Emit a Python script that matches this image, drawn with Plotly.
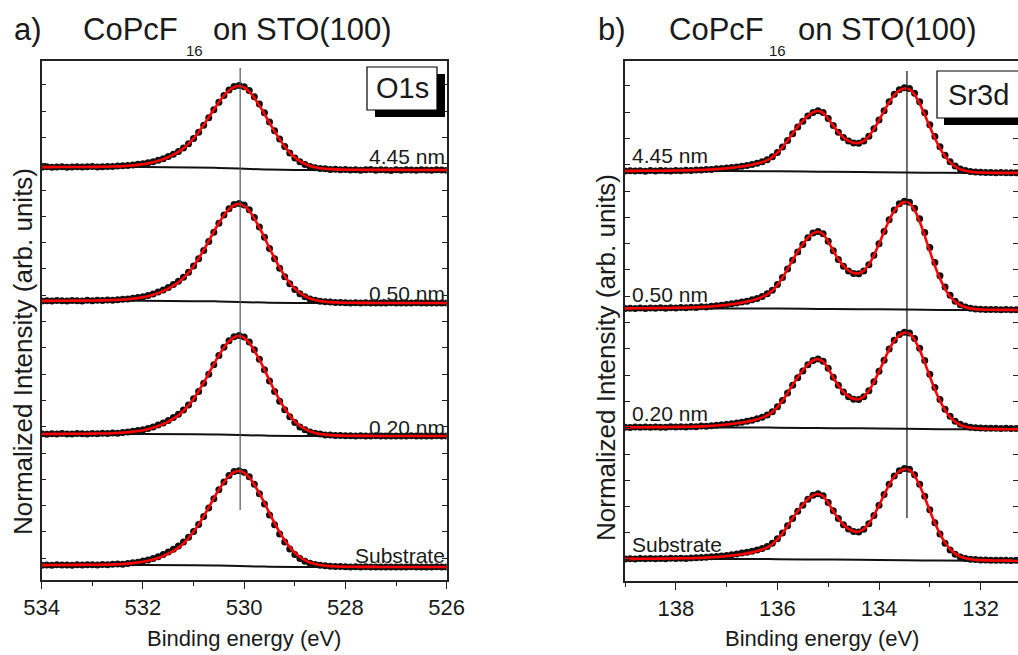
import plotly.graph_objects as go

# ---------------- data: O1s panel ----------------
energy_o1s = [534.0, 533.9, 533.8, 533.7, 533.6, 533.5, 533.4, 533.3, 533.2, 533.1,
              533.0, 532.9, 532.8, 532.7, 532.6, 532.5, 532.4, 532.3, 532.2, 532.1,
              532.0, 531.9, 531.8, 531.7, 531.6, 531.5, 531.4, 531.3, 531.2, 531.1,
              531.0, 530.9, 530.8, 530.7, 530.6, 530.5, 530.4, 530.3, 530.2, 530.1,
              530.0, 529.9, 529.8, 529.7, 529.6, 529.5, 529.4, 529.3, 529.2, 529.1,
              529.0, 528.9, 528.8, 528.7, 528.6, 528.5, 528.4, 528.3, 528.2, 528.1,
              528.0, 527.9, 527.8, 527.7, 527.6, 527.5, 527.4, 527.3, 527.2, 527.1,
              527.0, 526.9, 526.8, 526.7, 526.6, 526.5, 526.4, 526.3, 526.2, 526.1, 526.0]

o1s_data_sub = [0.018, 0.022, 0.019, 0.023, 0.020, 0.022, 0.019, 0.024, 0.021, 0.023,
                0.025, 0.022, 0.026, 0.024, 0.029, 0.031, 0.030, 0.038, 0.044, 0.051,
                0.062, 0.074, 0.090, 0.108, 0.132, 0.158, 0.188, 0.221, 0.262, 0.312,
                0.374, 0.448, 0.532, 0.622, 0.718, 0.812, 0.895, 0.962, 1.004, 1.012,
                0.998, 0.951, 0.872, 0.772, 0.662, 0.548, 0.444, 0.348, 0.262, 0.190,
                0.132, 0.090, 0.060, 0.040, 0.027, 0.018, 0.012, 0.008, 0.006, 0.004,
                0.003, 0.001, 0.003, 0.000, 0.002, 0.000, 0.001, -0.001, 0.001, 0.000,
                0.001, -0.001, 0.000, 0.002, 0.000, -0.001, 0.001, 0.000, 0.002, -0.001, 0.000]
o1s_fit_sub = [0.020, 0.020, 0.021, 0.021, 0.021, 0.021, 0.022, 0.022, 0.022, 0.023,
               0.023, 0.024, 0.024, 0.025, 0.027, 0.029, 0.032, 0.036, 0.041, 0.047,
               0.055, 0.065, 0.078, 0.095, 0.115, 0.140, 0.170, 0.204, 0.249, 0.303,
               0.370, 0.449, 0.536, 0.628, 0.725, 0.814, 0.893, 0.956, 0.997, 1.010,
               0.992, 0.943, 0.866, 0.775, 0.674, 0.565, 0.463, 0.367, 0.281, 0.209,
               0.150, 0.105, 0.072, 0.048, 0.032, 0.021, 0.014, 0.009, 0.006, 0.004,
               0.003, 0.002, 0.002, 0.001, 0.001, 0.001, 0.001, 0.000, 0.000, 0.000,
               0.000, 0.000, 0.000, 0.000, 0.000, 0.000, 0.000, 0.000, 0.000, 0.000, 0.000]

o1s_data_020 = [0.022, 0.018, 0.023, 0.020, 0.024, 0.021, 0.019, 0.025, 0.022, 0.020,
                0.026, 0.023, 0.027, 0.024, 0.031, 0.029, 0.036, 0.041, 0.048, 0.055,
                0.064, 0.076, 0.091, 0.110, 0.131, 0.157, 0.186, 0.220, 0.262, 0.313,
                0.376, 0.450, 0.534, 0.625, 0.720, 0.812, 0.897, 0.961, 1.003, 1.014,
                0.999, 0.950, 0.870, 0.774, 0.668, 0.555, 0.450, 0.352, 0.266, 0.194,
                0.136, 0.092, 0.062, 0.041, 0.028, 0.019, 0.011, 0.009, 0.004, 0.005,
                0.002, 0.003, 0.000, 0.002, -0.001, 0.001, 0.002, -0.001, 0.000, 0.001,
                -0.001, 0.001, 0.000, 0.002, -0.001, 0.000, 0.001, -0.001, 0.002, 0.000, 0.001]
o1s_fit_020 = [0.020, 0.020, 0.021, 0.021, 0.021, 0.022, 0.022, 0.022, 0.023, 0.023,
               0.024, 0.025, 0.025, 0.026, 0.028, 0.031, 0.034, 0.038, 0.044, 0.050,
               0.058, 0.069, 0.083, 0.100, 0.121, 0.146, 0.176, 0.210, 0.255, 0.309,
               0.375, 0.453, 0.540, 0.631, 0.727, 0.815, 0.894, 0.957, 0.997, 1.010,
               0.991, 0.941, 0.863, 0.771, 0.670, 0.561, 0.459, 0.363, 0.278, 0.206,
               0.148, 0.103, 0.071, 0.047, 0.031, 0.021, 0.014, 0.009, 0.006, 0.004,
               0.003, 0.002, 0.002, 0.001, 0.001, 0.001, 0.001, 0.000, 0.000, 0.000,
               0.000, 0.000, 0.000, 0.000, 0.000, 0.000, 0.000, 0.000, 0.000, 0.000, 0.000]

o1s_data_050 = [0.020, 0.024, 0.021, 0.025, 0.022, 0.020, 0.026, 0.023, 0.021, 0.027,
                0.024, 0.028, 0.025, 0.030, 0.029, 0.034, 0.037, 0.042, 0.049, 0.056,
                0.065, 0.077, 0.093, 0.111, 0.133, 0.158, 0.189, 0.223, 0.264, 0.315,
                0.378, 0.452, 0.536, 0.627, 0.722, 0.814, 0.898, 0.962, 1.004, 1.015,
                1.001, 0.952, 0.872, 0.776, 0.670, 0.557, 0.452, 0.354, 0.268, 0.196,
                0.138, 0.094, 0.064, 0.042, 0.029, 0.018, 0.012, 0.010, 0.005, 0.004,
                0.003, 0.001, 0.003, 0.000, 0.002, 0.001, -0.001, 0.001, 0.000, 0.002,
                0.000, -0.001, 0.001, 0.000, 0.002, -0.001, 0.000, 0.001, 0.000, -0.001, 0.001]
o1s_fit_050 = [0.022, 0.022, 0.022, 0.023, 0.023, 0.023, 0.024, 0.024, 0.024, 0.025,
               0.025, 0.026, 0.027, 0.028, 0.030, 0.032, 0.035, 0.039, 0.045, 0.051,
               0.059, 0.070, 0.084, 0.101, 0.122, 0.147, 0.177, 0.212, 0.256, 0.310,
               0.376, 0.454, 0.541, 0.632, 0.728, 0.816, 0.895, 0.957, 0.997, 1.010,
               0.990, 0.940, 0.861, 0.769, 0.668, 0.559, 0.457, 0.361, 0.276, 0.204,
               0.146, 0.102, 0.070, 0.046, 0.031, 0.020, 0.013, 0.009, 0.006, 0.004,
               0.003, 0.002, 0.002, 0.001, 0.001, 0.001, 0.000, 0.000, 0.000, 0.000,
               0.000, 0.000, 0.000, 0.000, 0.000, 0.000, 0.000, 0.000, 0.000, 0.000, 0.000]

o1s_data_445 = [0.033, 0.038, 0.034, 0.037, 0.040, 0.034, 0.036, 0.039, 0.035, 0.038,
                0.041, 0.037, 0.040, 0.043, 0.041, 0.047, 0.050, 0.054, 0.060, 0.068,
                0.076, 0.087, 0.100, 0.117, 0.137, 0.162, 0.190, 0.222, 0.264, 0.316,
                0.380, 0.455, 0.540, 0.630, 0.725, 0.815, 0.897, 0.963, 1.005, 1.018,
                1.003, 0.958, 0.884, 0.794, 0.690, 0.578, 0.472, 0.372, 0.282, 0.206,
                0.144, 0.098, 0.066, 0.043, 0.028, 0.018, 0.014, 0.006, 0.010, 0.002,
                0.005, 0.000, 0.004, -0.004, 0.002, 0.006, -0.002, 0.003, 0.000, -0.005,
                0.002, -0.003, 0.004, 0.000, -0.004, 0.003, 0.001, -0.003, 0.002, 0.000, -0.002]
o1s_fit_445 = [0.035, 0.035, 0.035, 0.036, 0.036, 0.036, 0.036, 0.037, 0.037, 0.037,
               0.038, 0.038, 0.039, 0.040, 0.042, 0.044, 0.047, 0.051, 0.056, 0.062,
               0.070, 0.080, 0.093, 0.110, 0.130, 0.155, 0.185, 0.219, 0.262, 0.315,
               0.380, 0.457, 0.543, 0.634, 0.729, 0.817, 0.896, 0.958, 0.998, 1.012,
               0.994, 0.945, 0.868, 0.777, 0.676, 0.567, 0.465, 0.369, 0.283, 0.210,
               0.151, 0.106, 0.073, 0.049, 0.033, 0.022, 0.015, 0.010, 0.007, 0.005,
               0.004, 0.003, 0.003, 0.002, 0.002, 0.002, 0.001, 0.001, 0.001, 0.001,
               0.001, 0.001, 0.000, 0.000, 0.000, 0.000, 0.000, 0.000, 0.000, 0.000, 0.000]

bg_energy_o1s = [534.0, 532.0, 531.0, 530.5, 530.1, 529.6, 529.0, 528.0, 526.0]
o1s_bg_sub = [0.020, 0.020, 0.018, 0.015, 0.010, 0.004, 0.000, 0.000, 0.000]
o1s_bg_020 = [0.020, 0.020, 0.018, 0.015, 0.010, 0.004, 0.000, 0.000, 0.000]
o1s_bg_050 = [0.022, 0.022, 0.019, 0.016, 0.011, 0.004, 0.000, 0.000, 0.000]
o1s_bg_445 = [0.035, 0.035, 0.031, 0.025, 0.017, 0.007, 0.001, 0.000, 0.000]

# ---------------- data: Sr3d panel ----------------
energy_sr3d = [139.0, 138.9, 138.8, 138.7, 138.6, 138.5, 138.4, 138.3, 138.2, 138.1,
               138.0, 137.9, 137.8, 137.7, 137.6, 137.5, 137.4, 137.3, 137.2, 137.1,
               137.0, 136.9, 136.8, 136.7, 136.6, 136.5, 136.4, 136.3, 136.2, 136.1,
               136.0, 135.9, 135.8, 135.7, 135.6, 135.5, 135.4, 135.3, 135.2, 135.1,
               135.0, 134.9, 134.8, 134.7, 134.6, 134.5, 134.4, 134.3, 134.2, 134.1,
               134.0, 133.9, 133.8, 133.7, 133.6, 133.5, 133.4, 133.3, 133.2, 133.1,
               133.0, 132.9, 132.8, 132.7, 132.6, 132.5, 132.4, 132.3, 132.2, 132.1,
               132.0, 131.9, 131.8, 131.7, 131.6, 131.5, 131.4, 131.3, 131.2, 131.1, 131.0]

sr_data_sub = [0.018, 0.022, 0.019, 0.023, 0.020, 0.024, 0.021, 0.025, 0.022, 0.026,
               0.024, 0.028, 0.025, 0.030, 0.031, 0.034, 0.038, 0.042, 0.047, 0.052,
               0.058, 0.066, 0.074, 0.083, 0.093, 0.104, 0.116, 0.132, 0.155, 0.190,
               0.240, 0.302, 0.380, 0.460, 0.538, 0.606, 0.670, 0.714, 0.731, 0.708,
               0.636, 0.545, 0.461, 0.392, 0.345, 0.318, 0.314, 0.342, 0.402, 0.494,
               0.604, 0.722, 0.834, 0.925, 0.982, 1.006, 0.996, 0.936, 0.834, 0.702,
               0.556, 0.414, 0.290, 0.190, 0.118, 0.070, 0.040, 0.024, 0.016, 0.012,
               0.008, 0.007, 0.005, 0.006, 0.004, 0.005, 0.003, 0.004, 0.002, 0.003, 0.001]
sr_fit_sub = [0.020, 0.020, 0.020, 0.021, 0.021, 0.022, 0.022, 0.023, 0.023, 0.024,
              0.025, 0.026, 0.026, 0.027, 0.029, 0.031, 0.034, 0.037, 0.041, 0.045,
              0.050, 0.056, 0.063, 0.071, 0.080, 0.091, 0.105, 0.122, 0.145, 0.180,
              0.232, 0.298, 0.378, 0.462, 0.542, 0.610, 0.672, 0.712, 0.727, 0.703,
              0.630, 0.540, 0.458, 0.392, 0.347, 0.322, 0.318, 0.345, 0.405, 0.495,
              0.603, 0.718, 0.828, 0.918, 0.975, 0.999, 0.988, 0.925, 0.820, 0.688,
              0.546, 0.410, 0.292, 0.197, 0.126, 0.077, 0.045, 0.026, 0.015, 0.009,
              0.006, 0.004, 0.003, 0.002, 0.002, 0.001, 0.001, 0.001, 0.000, 0.000, 0.000]

sr_data_020 = [0.022, 0.019, 0.023, 0.020, 0.024, 0.021, 0.025, 0.022, 0.020, 0.026,
               0.023, 0.027, 0.025, 0.029, 0.027, 0.033, 0.031, 0.038, 0.042, 0.047,
               0.052, 0.058, 0.066, 0.073, 0.083, 0.093, 0.108, 0.124, 0.148, 0.182,
               0.234, 0.298, 0.375, 0.456, 0.534, 0.604, 0.668, 0.712, 0.729, 0.705,
               0.632, 0.540, 0.455, 0.385, 0.338, 0.312, 0.309, 0.338, 0.399, 0.492,
               0.600, 0.716, 0.830, 0.923, 0.982, 1.005, 0.998, 0.940, 0.840, 0.712,
               0.570, 0.432, 0.308, 0.208, 0.134, 0.084, 0.052, 0.033, 0.022, 0.016,
               0.013, 0.011, 0.010, 0.011, 0.009, 0.010, 0.008, 0.009, 0.007, 0.008, 0.006]
sr_fit_020 = [0.020, 0.020, 0.021, 0.021, 0.021, 0.022, 0.022, 0.023, 0.023, 0.024,
              0.025, 0.025, 0.026, 0.027, 0.028, 0.030, 0.033, 0.036, 0.040, 0.044,
              0.049, 0.055, 0.062, 0.070, 0.079, 0.090, 0.104, 0.121, 0.144, 0.178,
              0.230, 0.296, 0.376, 0.460, 0.540, 0.609, 0.671, 0.712, 0.726, 0.701,
              0.627, 0.536, 0.453, 0.386, 0.341, 0.315, 0.311, 0.338, 0.398, 0.489,
              0.598, 0.714, 0.826, 0.917, 0.975, 0.999, 0.989, 0.926, 0.822, 0.690,
              0.548, 0.412, 0.294, 0.198, 0.127, 0.078, 0.046, 0.027, 0.016, 0.010,
              0.006, 0.004, 0.003, 0.002, 0.002, 0.001, 0.001, 0.001, 0.000, 0.000, 0.000]

sr_data_050 = [0.013, 0.017, 0.014, 0.018, 0.015, 0.019, 0.016, 0.020, 0.017, 0.021,
               0.019, 0.023, 0.021, 0.025, 0.023, 0.029, 0.028, 0.035, 0.039, 0.045,
               0.050, 0.058, 0.064, 0.073, 0.082, 0.094, 0.107, 0.125, 0.150, 0.184,
               0.236, 0.300, 0.379, 0.460, 0.538, 0.606, 0.668, 0.712, 0.728, 0.706,
               0.636, 0.549, 0.468, 0.404, 0.362, 0.338, 0.336, 0.362, 0.419, 0.508,
               0.614, 0.727, 0.836, 0.926, 0.984, 1.006, 0.998, 0.943, 0.846, 0.718,
               0.578, 0.440, 0.316, 0.214, 0.136, 0.082, 0.048, 0.028, 0.016, 0.010,
               0.007, 0.005, 0.004, 0.005, 0.003, 0.004, 0.002, 0.003, 0.001, 0.002, 0.000]
sr_fit_050 = [0.015, 0.015, 0.016, 0.016, 0.016, 0.017, 0.017, 0.018, 0.018, 0.019,
              0.020, 0.021, 0.022, 0.023, 0.025, 0.027, 0.030, 0.033, 0.037, 0.042,
              0.047, 0.053, 0.060, 0.068, 0.078, 0.089, 0.103, 0.121, 0.145, 0.180,
              0.232, 0.298, 0.378, 0.461, 0.541, 0.609, 0.670, 0.710, 0.724, 0.702,
              0.633, 0.548, 0.470, 0.408, 0.366, 0.342, 0.339, 0.364, 0.420, 0.507,
              0.612, 0.724, 0.831, 0.919, 0.975, 0.999, 0.988, 0.924, 0.819, 0.687,
              0.545, 0.409, 0.291, 0.196, 0.125, 0.076, 0.044, 0.025, 0.014, 0.008,
              0.005, 0.003, 0.002, 0.002, 0.001, 0.001, 0.001, 0.000, 0.000, 0.000, 0.000]

sr_data_445 = [0.023, 0.028, 0.024, 0.027, 0.022, 0.029, 0.025, 0.030, 0.026, 0.024,
               0.031, 0.028, 0.033, 0.030, 0.036, 0.034, 0.042, 0.040, 0.049, 0.053,
               0.058, 0.065, 0.071, 0.080, 0.090, 0.101, 0.115, 0.132, 0.156, 0.191,
               0.242, 0.306, 0.384, 0.465, 0.544, 0.612, 0.674, 0.716, 0.735, 0.714,
               0.645, 0.560, 0.482, 0.420, 0.377, 0.354, 0.352, 0.378, 0.435, 0.522,
               0.626, 0.736, 0.842, 0.930, 0.985, 1.007, 0.999, 0.942, 0.842, 0.712,
               0.570, 0.432, 0.310, 0.210, 0.134, 0.082, 0.048, 0.030, 0.017, 0.012,
               0.008, 0.006, 0.007, 0.004, 0.005, 0.003, 0.004, 0.002, 0.003, 0.001, 0.002]
sr_fit_445 = [0.025, 0.025, 0.025, 0.026, 0.026, 0.026, 0.027, 0.027, 0.028, 0.028,
              0.029, 0.030, 0.031, 0.032, 0.034, 0.036, 0.039, 0.042, 0.046, 0.050,
              0.055, 0.061, 0.068, 0.076, 0.086, 0.097, 0.111, 0.128, 0.152, 0.187,
              0.239, 0.305, 0.385, 0.468, 0.548, 0.616, 0.677, 0.717, 0.733, 0.710,
              0.641, 0.557, 0.481, 0.421, 0.380, 0.357, 0.354, 0.379, 0.434, 0.520,
              0.623, 0.732, 0.836, 0.922, 0.976, 0.999, 0.988, 0.925, 0.820, 0.688,
              0.546, 0.410, 0.292, 0.197, 0.126, 0.077, 0.045, 0.026, 0.015, 0.009,
              0.006, 0.004, 0.003, 0.002, 0.002, 0.001, 0.001, 0.001, 0.000, 0.000, 0.000]

bg_energy_sr3d = [139.0, 137.0, 136.0, 135.2, 134.4, 133.5, 132.8, 132.0, 131.0]
sr_bg_sub = [0.020, 0.019, 0.017, 0.013, 0.010, 0.005, 0.001, 0.000, 0.000]
sr_bg_020 = [0.020, 0.019, 0.017, 0.013, 0.010, 0.005, 0.001, 0.000, 0.000]
sr_bg_050 = [0.015, 0.014, 0.013, 0.010, 0.008, 0.004, 0.001, 0.000, 0.000]
sr_bg_445 = [0.025, 0.024, 0.021, 0.016, 0.012, 0.006, 0.002, 0.000, 0.000]

thickness_labels = ["Substrate", "0.20 nm", "0.50 nm", "4.45 nm"]

# stacking (offset of each spectrum) and display scale of each normalised spectrum
stack_offset_o1s = [0.13, 1.44, 2.77, 4.10]
display_scale_o1s = [0.95, 0.99, 0.98, 0.83]
stack_offset_sr3d = [0.203, 1.517, 2.71, 4.08]
display_scale_sr3d = [0.917, 0.966, 1.08, 0.846]

vline_o1s_energy = 530.08
vline_o1s_span = [0.70, 5.12]
vline_sr3d_energy = 133.45
vline_sr3d_span = [0.63, 5.10]

o1s_sets = [(o1s_data_sub, o1s_fit_sub, o1s_bg_sub), (o1s_data_020, o1s_fit_020, o1s_bg_020),
            (o1s_data_050, o1s_fit_050, o1s_bg_050), (o1s_data_445, o1s_fit_445, o1s_bg_445)]
sr_sets = [(sr_data_sub, sr_fit_sub, sr_bg_sub), (sr_data_020, sr_fit_020, sr_bg_020),
           (sr_data_050, sr_fit_050, sr_bg_050), (sr_data_445, sr_fit_445, sr_bg_445)]

W, H = 1018, 655
FONT = "Liberation Sans, Arial, Helvetica, sans-serif"
INK = "#1a1a1a"


def px(p):
    return p / W


def py(p):
    return 1 - p / H


fig = go.Figure()


def add_panel(energy, bg_energy, sets, offsets, scales, xa, ya, vx, vspan, vcolor):
    for (data, fit, bg), off, sc in zip(sets, offsets, scales):
        fig.add_trace(go.Scatter(x=bg_energy, y=[off + sc * v for v in bg], mode="lines",
                                 line=dict(color="#111111", width=2, shape="spline"),
                                 xaxis=xa, yaxis=ya, hoverinfo="skip"))
        fig.add_trace(go.Scatter(x=energy, y=[off + sc * v for v in data], mode="markers",
                                 marker=dict(color="#111111", size=7), xaxis=xa, yaxis=ya))
        fig.add_trace(go.Scatter(x=energy, y=[off + sc * v for v in fit], mode="lines",
                                 line=dict(color="#ff0000", width=2.6, shape="spline"),
                                 xaxis=xa, yaxis=ya))
    fig.add_trace(go.Scatter(x=[vx, vx], y=vspan, mode="lines",
                             line=dict(color=vcolor, width=1.2), xaxis=xa, yaxis=ya))


add_panel(energy_o1s, bg_energy_o1s, o1s_sets, stack_offset_o1s, display_scale_o1s,
          "x", "y", vline_o1s_energy, vline_o1s_span, "#555555")
add_panel(energy_sr3d, bg_energy_sr3d, sr_sets, stack_offset_sr3d, display_scale_sr3d,
          "x2", "y2", vline_sr3d_energy, vline_sr3d_span, "#111111")

xa_dom = [41.7 / W, 446.7 / W]
xb_dom = [625.0 / W, 1.0]
ya_dom = [(H - 580) / H, (H - 61) / H]
yb_dom = [(H - 581) / H, (H - 61) / H]

common_x = dict(showline=True, linecolor="#222222", linewidth=1.5, mirror=True, automargin=False,
                ticks="outside", ticklen=7, tickwidth=1.3, tickcolor="#222222", dtick=2,
                tickfont=dict(size=22, color=INK, family=FONT), showgrid=False, zeroline=False,
                minor=dict(dtick=1, ticklen=4, ticks="outside", tickcolor="#222222",
                           tickwidth=1.3, showgrid=False))
common_y = dict(showline=True, linecolor="#222222", linewidth=1.5, mirror="ticks", automargin=False,
                ticks="inside", ticklen=5, tickwidth=1.2, tickcolor="#222222",
                tick0=0.218, dtick=0.263, showticklabels=False, showgrid=False, zeroline=False)
top_x = dict(side="top", ticks="inside", ticklen=5, tickwidth=1.2, tickcolor="#222222",
             automargin=False, dtick=1, showticklabels=False, showline=False, showgrid=False,
             zeroline=False)

fig.update_layout(
    width=W, height=H, margin=dict(l=0, r=0, t=0, b=0, autoexpand=False),
    paper_bgcolor="white", plot_bgcolor="white", showlegend=False,
    font=dict(family=FONT, color=INK),
    xaxis=dict(domain=xa_dom, range=[534, 526], tick0=526, anchor="y", **common_x),
    yaxis=dict(domain=ya_dom, range=[0, 5.19], anchor="x", **common_y),
    xaxis2=dict(domain=xb_dom, range=[139, 131.264], tick0=132, anchor="y2", **common_x),
    yaxis2=dict(domain=yb_dom, range=[0, 5.20], anchor="x2", **common_y),
    xaxis3=dict(overlaying="x", anchor="y", range=[534, 526], tick0=526, **top_x),
    xaxis4=dict(overlaying="x2", anchor="y2", range=[139, 131.264], tick0=131, **top_x),
)

ann = []


def txt(text, x, y, size, xanchor="left", yanchor="middle", angle=0):
    ann.append(dict(text=text, x=x, y=y, xref="paper", yref="paper", xanchor=xanchor,
                    yanchor=yanchor, showarrow=False, textangle=angle,
                    font=dict(size=size, family=FONT, color=INK)))


# titles
txt("a)", px(12), py(30), 31)
txt("CoPcF", px(81), py(30), 31)
txt("16", px(184), py(51), 15)
txt("on STO(100)", px(211), py(30), 31)
txt("b)", px(596), py(30), 31)
txt("CoPcF", px(667), py(30), 31)
txt("16", px(767), py(51), 15)
txt("on STO(100)", px(796), py(30), 31)

# axis titles
txt("Binding energy (eV)", px(244), py(638), 22, xanchor="center")
txt("Binding energy (eV)", px(822), py(638), 22, xanchor="center")
txt("Normalized Intensity (arb. units)", px(23), py(352), 26, xanchor="center", angle=-90)
txt("Normalized Intensity (arb. units)", px(606), py(358), 26, xanchor="center", angle=-90)

# thickness labels
label_y_o1s = [555, 427, 293, 157]
label_y_sr3d = [544, 413, 294, 155]
for lab, yy in zip(thickness_labels, label_y_o1s):
    txt(lab, px(447), py(yy), 21, xanchor="right")
for lab, yy in zip(thickness_labels, label_y_sr3d):
    txt(lab, px(630), py(yy), 21)

# core-level boxes with drop shadow
shapes = [
    dict(type="rect", xref="paper", yref="paper", x0=px(375), x1=px(445), y0=py(117), y1=py(74),
         fillcolor="black", line=dict(width=0)),
    dict(type="rect", xref="paper", yref="paper", x0=px(367), x1=px(437), y0=py(110), y1=py(67),
         fillcolor="white", line=dict(color="black", width=1.2)),
    dict(type="rect", xref="paper", yref="paper", x0=px(944), x1=px(1040), y0=py(125), y1=py(78),
         fillcolor="black", line=dict(width=0)),
    dict(type="rect", xref="paper", yref="paper", x0=px(937), x1=px(1030), y0=py(118), y1=py(71),
         fillcolor="white", line=dict(color="black", width=1.2)),
]
txt("O1s", px(402), py(88), 29, xanchor="center")
txt("Sr3d", px(946), py(95), 29)

fig.update_layout(annotations=ann, shapes=shapes)
fig.write_html("out.html")
